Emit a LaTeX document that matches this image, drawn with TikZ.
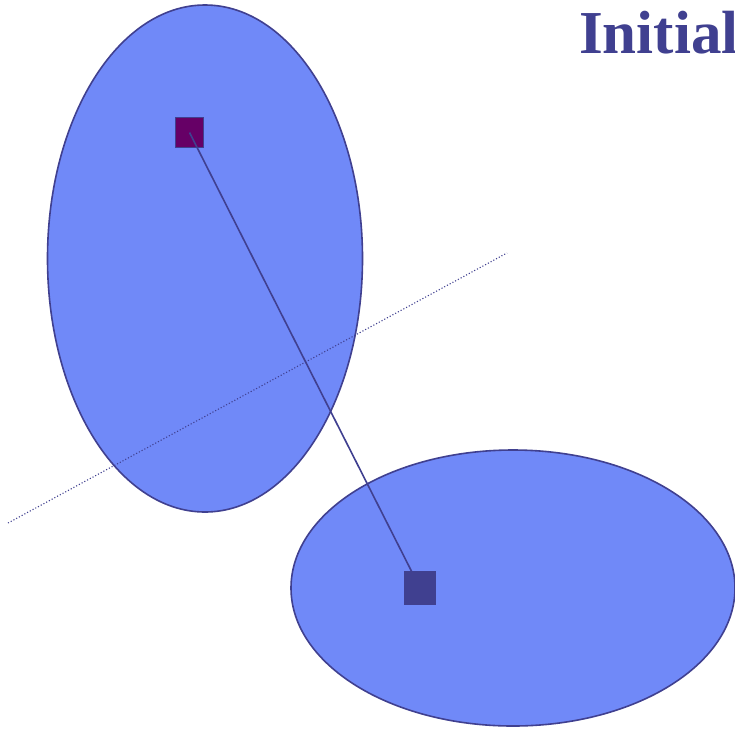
\documentclass[tikz,border=0pt]{standalone}
\usepackage{fontspec}
\setmainfont{Liberation Serif}
\usetikzlibrary{shapes.geometric}
\definecolor{ellfill}{RGB}{112,137,248}
\definecolor{dkblue}{RGB}{64,64,144}
\definecolor{purp}{RGB}{102,0,102}
\begin{document}
\begin{tikzpicture}[x=1pt,y=-1pt,
  blob/.style={draw=dkblue,fill=ellfill,line width=1.6pt},
  sq/.style={draw=dkblue,line width=1.2pt,minimum width=28pt,minimum height=30pt,inner sep=0pt},
  link/.style={draw=dkblue,line width=1.6pt},
  sep/.style={draw=dkblue,dotted,line width=1.1pt}]
\useasboundingbox (0,0) rectangle (735,729);
\clip (0,0) rectangle (735,729);
\fill[white] (0,0) rectangle (735,729);
\node[blob,ellipse,minimum width=315pt,minimum height=507pt,inner sep=0pt] (e1) at (205,258.5) {};
\node[blob,ellipse,minimum width=444pt,minimum height=276pt,inner sep=0pt] (e2) at (513,588) {};
\coordinate (d1) at (8,523);
\coordinate (d2) at (507,253);
\draw[sep] (d1) -- (d2);
\node[sq,fill=purp] (s1) at (189.5,132.5) {};
\node[sq,fill=dkblue,minimum width=30pt,minimum height=32pt] (s2) at (420,588) {};
\draw[link] (s1.center) -- (s2.center);
\node[sq,fill=dkblue,minimum width=30pt,minimum height=32pt] at (s2.center) {};
\node[anchor=base west,inner sep=0pt,text=dkblue,font=\fontsize{61}{61}\selectfont\bfseries] (title) at (579,53) {Initial};
\end{tikzpicture}
\end{document}
